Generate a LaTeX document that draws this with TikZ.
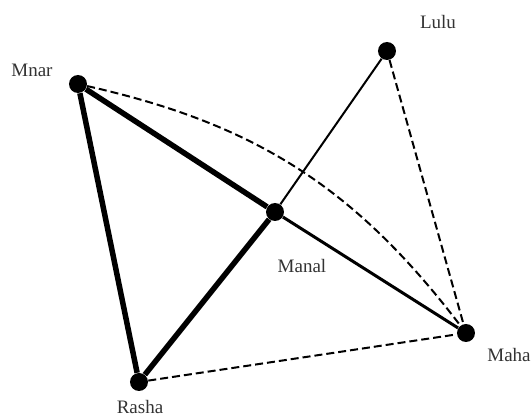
\documentclass[tikz,border=0pt]{standalone}
\usepackage{fontspec}
\setmainfont{Liberation Serif}
\tikzset{
  dot/.style={circle,fill=black,inner sep=0pt,minimum size=9pt},
  nametag/.style={text=black!80,font=\fontsize{9.5}{11}\selectfont,inner sep=0pt},
  heavy/.style={line width=2.75pt},
  light/.style={line width=1pt},
  dashline/.style={line width=1pt,dash pattern=on 4pt off 2pt}
}
\begin{document}
\begin{tikzpicture}[x=0.5pt,y=-0.5pt]
\useasboundingbox (0,0) rectangle (532,417);
\node[dot] (mnar) at (78,84) {};
\node[dot] (lulu) at (387,51) {};
\node[dot] (manal) at (275,212) {};
\node[dot] (maha) at (466,333) {};
\node[dot] (rasha) at (139,382) {};
\node[nametag] (mnarlbl) at (32,70) {Mnar};
\node[nametag] (lululbl) at (438,22) {Lulu};
\node[nametag] (manallbl) at (302,266) {Manal};
\node[nametag] (mahalbl) at (509,355) {Maha};
\node[nametag] (rashalbl) at (140,407) {Rasha};
\draw[heavy] (mnar)--(rasha);
\draw[heavy] (mnar)--(manal);
\draw[heavy] (manal)--(rasha);
\draw[line width=1.5pt] (manal)--(maha);
\draw[light] (manal)--(lulu);
\draw[dashline] (lulu)--(maha);
\draw[dashline] (rasha)--(maha);
\draw[dashline] (mnar) to[bend left=20] (maha);
\end{tikzpicture}
\end{document}
